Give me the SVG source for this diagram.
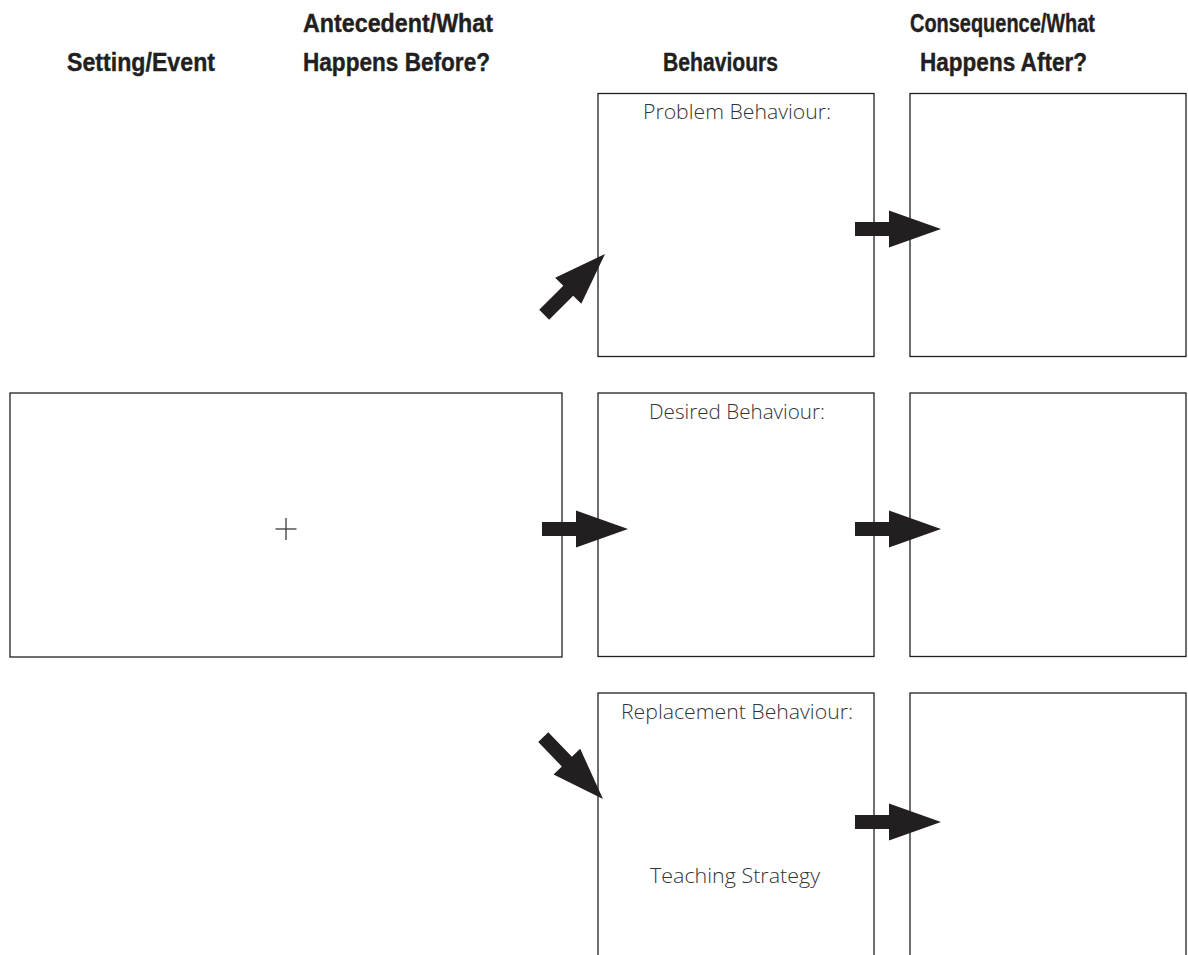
<svg xmlns="http://www.w3.org/2000/svg" xmlns:xlink="http://www.w3.org/1999/xlink" width="1188" height="955" viewBox="0 0 1188 955">
<style>
.box{fill:#ffffff;stroke:#231f20;stroke-width:1.3}
.hdr{font-family:"Liberation Sans",Arial,sans-serif;font-weight:bold;font-size:26.5px;fill:#231f20;text-anchor:middle;stroke:#231f20;stroke-width:0.4}
.lbl{font-family:"Open Sans","Lato","Liberation Sans",sans-serif;font-weight:300;font-size:20px;fill:#333333;text-anchor:middle}
.arrow{fill:#231f20}
.plus{stroke:#3a3a3a;stroke-width:1.3}
</style>
<defs>
<polygon id="arr" points="0,0 -52,-18.5 -52,-7 -86,-7 -86,7 -52,7 -52,18.5"/>
</defs>
<rect width="1188" height="955" fill="#ffffff"/>
<g id="headers">
<text class="hdr" x="141" y="71" textLength="148" lengthAdjust="spacingAndGlyphs">Setting/Event</text>
<text class="hdr" x="398" y="32" textLength="190" lengthAdjust="spacingAndGlyphs">Antecedent/What</text>
<text class="hdr" x="396.5" y="71" textLength="187" lengthAdjust="spacingAndGlyphs">Happens Before?</text>
<text class="hdr" x="720.5" y="71" textLength="115" lengthAdjust="spacingAndGlyphs">Behaviours</text>
<text class="hdr" x="1002.5" y="32" textLength="185" lengthAdjust="spacingAndGlyphs">Consequence/What</text>
<text class="hdr" x="1003.5" y="71" textLength="167" lengthAdjust="spacingAndGlyphs">Happens After?</text>
</g>
<g id="setting-event">
<rect class="box" x="10" y="393" width="552" height="264"/>
<line class="plus" x1="275.5" y1="529" x2="296.5" y2="529"/>
<line class="plus" x1="286" y1="518" x2="286" y2="540"/>
</g>
<g id="problem-behaviour">
<rect class="box" x="598" y="93.5" width="276" height="263"/>
<text class="lbl" x="737" y="119" textLength="188" lengthAdjust="spacingAndGlyphs">Problem Behaviour:</text>
</g>
<g id="desired-behaviour">
<rect class="box" x="598" y="393" width="276" height="263.5"/>
<text class="lbl" x="737" y="419" textLength="176" lengthAdjust="spacingAndGlyphs">Desired Behaviour:</text>
</g>
<g id="replacement-behaviour">
<rect class="box" x="598" y="693" width="276" height="300"/>
<text class="lbl" x="737" y="719" textLength="232" lengthAdjust="spacingAndGlyphs">Replacement Behaviour:</text>
<text class="lbl" x="735" y="883" textLength="170" lengthAdjust="spacingAndGlyphs" style="font-size:21px">Teaching Strategy</text>
</g>
<g id="consequence-1">
<rect class="box" x="910" y="93.5" width="276" height="263"/>
</g>
<g id="consequence-2">
<rect class="box" x="910" y="393" width="276" height="263.5"/>
</g>
<g id="consequence-3">
<rect class="box" x="910" y="693" width="276" height="300"/>
</g>
<g id="connectors" class="arrow">
<use xlink:href="#arr" transform="translate(605,254) rotate(-45)"/>
<use xlink:href="#arr" transform="translate(628,529)"/>
<use xlink:href="#arr" transform="translate(603,799) rotate(46)"/>
<use xlink:href="#arr" transform="translate(941,229)"/>
<use xlink:href="#arr" transform="translate(941,529)"/>
<use xlink:href="#arr" transform="translate(941,822)"/>
</g>
</svg>
